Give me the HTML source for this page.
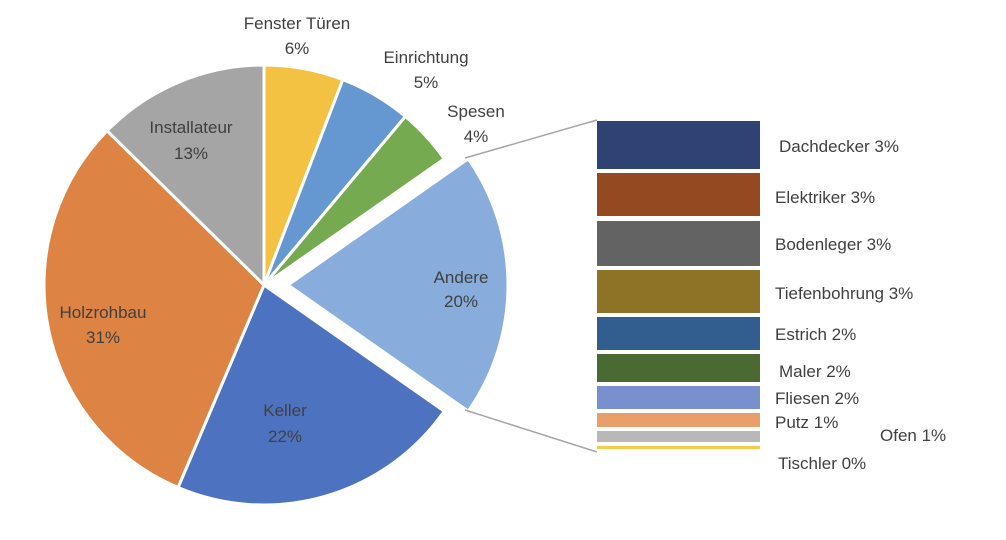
<!DOCTYPE html>
<html><head><meta charset="utf-8"><style>
html,body{margin:0;padding:0;background:#fff;}
svg text{font-family:"Liberation Sans",sans-serif;font-size:17px;fill:#404040;}
</style></head><body>
<svg id="s" width="1006" height="535" viewBox="0 0 1006 535" xmlns="http://www.w3.org/2000/svg">
<g id="pie"></g>
<line x1="465" y1="158" x2="597" y2="120" stroke="#a6a6a6" stroke-width="1.5"/>
<line x1="465" y1="410" x2="597" y2="452" stroke="#a6a6a6" stroke-width="1.5"/>
<rect x="597" y="121" width="163" height="48" fill="#2e4374"/>
<rect x="597" y="173" width="163" height="43" fill="#934a20"/>
<rect x="597" y="221" width="163" height="45" fill="#636363"/>
<rect x="597" y="270" width="163" height="43" fill="#8e7226"/>
<rect x="597" y="317" width="163" height="33" fill="#325e8f"/>
<rect x="597" y="354" width="163" height="28" fill="#4a6a34"/>
<rect x="597" y="386" width="163" height="23" fill="#7990cf"/>
<rect x="597" y="413" width="163" height="14" fill="#e89f6a"/>
<rect x="597" y="431" width="163" height="11" fill="#b8b8b8"/>
<rect x="597" y="446" width="163" height="3" fill="#f5cc4a"/>
<text x="779" y="152">Dachdecker 3%</text>
<text x="775" y="203">Elektriker 3%</text>
<text x="775" y="250">Bodenleger 3%</text>
<text x="775" y="299">Tiefenbohrung 3%</text>
<text x="775" y="340">Estrich 2%</text>
<text x="779" y="377">Maler 2%</text>
<text x="775" y="404">Fliesen 2%</text>
<text x="775" y="428">Putz 1%</text>
<text x="880" y="441">Ofen 1%</text>
<text x="778" y="469">Tischler 0%</text>
<g text-anchor="middle">
<text x="297" y="29">Fenster Türen</text><text x="297" y="54">6%</text>
<text x="426" y="63">Einrichtung</text><text x="426" y="88">5%</text>
<text x="476" y="117">Spesen</text><text x="476" y="142">4%</text>
<text x="461" y="283">Andere</text><text x="461" y="307">20%</text>
<text x="285" y="416">Keller</text><text x="285" y="442">22%</text>
<text x="103" y="318">Holzrohbau</text><text x="103" y="343">31%</text>
<text x="191" y="133">Installateur</text><text x="191" y="159">13%</text>
</g>
</svg>
<script>
var slices=[[0,21,"#f3c242",0],[21,40,"#6597d1",0],[40,55,"#76aa51",0],[55,125,"#88acdb",24],[125,203,"#4d72c0",0],[203,314.5,"#dd8343",0],[314.5,360,"#a5a5a5",0]];
var cx=264,cy=285,r=220,g=document.getElementById("pie"),h="";
function pt(a,ox,oy){var t=(a-90)*Math.PI/180;return [(ox+r*Math.cos(t)).toFixed(2),(oy+r*Math.sin(t)).toFixed(2)];}
slices.forEach(function(s){var mid=((s[0]+s[1])/2-90)*Math.PI/180;var ox=cx+s[3]*Math.cos(mid),oy=cy+s[3]*Math.sin(mid);
var p1=pt(s[0],ox,oy),p2=pt(s[1],ox,oy),lg=(s[1]-s[0])>180?1:0;
h+='<path d="M'+ox+','+oy+' L'+p1+' A'+r+','+r+' 0 '+lg+' 1 '+p2+' Z" fill="'+s[2]+'" stroke="#fff" stroke-width="3" stroke-linejoin="round"/>';});
g.innerHTML=h;
</script>
</body></html>
